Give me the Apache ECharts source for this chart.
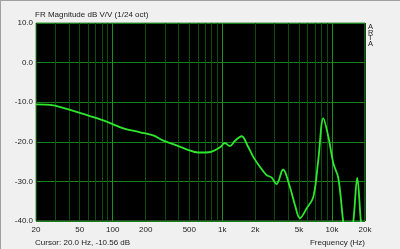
<!DOCTYPE html>
<html>
<head>
<meta charset="utf-8">
<script src="https://cdn.jsdelivr.net/npm/echarts@6/dist/echarts.min.js"></script>
<style>
html,body{margin:0;padding:0;background:#f0f0f0;}
#c{width:400px;height:249px;}
</style>
</head>
<body>
<div id="c"></div>
<script>
const freqHz = [20, 28.8, 43.8, 62, 88, 125, 178, 234, 290, 356, 472, 604, 700, 802, 953, 1054, 1172, 1300, 1502, 1700, 1914, 2200, 2530, 2810, 3120, 3580, 4120, 4600, 5100, 5880, 6760, 7500, 8340, 9260, 10290, 11430, 12700, 14000, 15600, 17000, 18400, 20000];
const magDb  = [-10.53, -10.8, -12.2, -13.5, -14.9, -16.6, -17.6, -18.4, -19.7, -20.6, -21.9, -22.7, -22.7, -22.5, -21.4, -20.3, -21.1, -19.8, -18.6, -21.0, -23.8, -26.3, -28.4, -29.0, -30.7, -27.0, -31.3, -36.0, -39.3, -36.8, -33.9, -24.6, -14.1, -18.7, -25.4, -29.2, -40.5, -48, -40.5, -29.1, -40.5, -48];
const yTicks = [-40, -30, -20, -10, 0, 10];
const xGridValues = [20,30,40,50,60,70,80,90,100,200,300,400,500,600,700,800,900,1000,2000,3000,4000,5000,6000,7000,8000,9000,10000,20000];
const xLabelValues = [20, 50, 100, 200, 500, 1000, 2000, 5000, 10000, 20000];
const majorGrid = [100, 1000, 10000];

const font = 'Liberation Sans, Arial, sans-serif';
const gridColors = xGridValues.map(v => majorGrid.includes(v) ? '#1f8f1f' : '#0c4f0c');
const txt = (size) => ({fontFamily: font, fontSize: size, fontWeight: 'normal', color: '#222'});

const chart = echarts.init(document.getElementById('c'), null, {renderer: 'canvas'});
chart.setOption({
  backgroundColor: '#f0f0f0',
  animation: false,
  title: [
    {text: 'FR Magnitude dB V/V (1/24 oct)', left: 35, top: 11, padding: 0, textStyle: txt(8)},
    {text: 'A\nR\nT\nA', left: 368, top: 24, padding: 0,
     textStyle: Object.assign(txt(7.5), {lineHeight: 5.7})},
    {text: 'Cursor: 20.0 Hz, -10.56 dB', left: 35, top: 238.5, padding: 0, textStyle: txt(8)},
    {text: 'Frequency (Hz)', right: 35, top: 238.5, padding: 0, textStyle: txt(8)}
  ],
  grid: {left: 36, right: 35, top: 23, bottom: 28, show: true,
         backgroundColor: '#000', borderColor: '#4a8a4a', borderWidth: 1},
  xAxis: {
    type: 'log', logBase: 10, min: 20, max: 20000,
    axisLine: {show: false},
    axisTick: {show: false, customValues: xGridValues},
    axisLabel: {customValues: xLabelValues, margin: 5, fontFamily: font, fontSize: 8, color: '#222',
      formatter: v => v >= 1000 ? (v / 1000) + 'k' : String(v)},
    splitLine: {show: true, lineStyle: {color: gridColors, width: 1}}
  },
  yAxis: {
    type: 'value', min: -40, max: 10, interval: 10,
    axisLine: {show: false}, axisTick: {show: false},
    axisLabel: {margin: 3, fontFamily: font, fontSize: 8, color: '#222',
      formatter: v => v.toFixed(1)},
    splitLine: {show: true, lineStyle: {color: '#16801a', width: 1}}
  },
  graphic: [
    {type: 'line', shape: {x1: 0, y1: 0.5, x2: 400, y2: 0.5}, style: {stroke: '#a0a0a0', lineWidth: 1}, silent: true},
    {type: 'line', shape: {x1: 0.5, y1: 0, x2: 0.5, y2: 249}, style: {stroke: '#a0a0a0', lineWidth: 1}, silent: true}
  ],
  series: [{
    type: 'line',
    data: freqHz.map((f, i) => [f, magDb[i]]),
    smooth: 0.35,
    showSymbol: false,
    clip: true,
    lineStyle: {color: '#2de82d', width: 1.8}
  }]
});
</script>
</body>
</html>
